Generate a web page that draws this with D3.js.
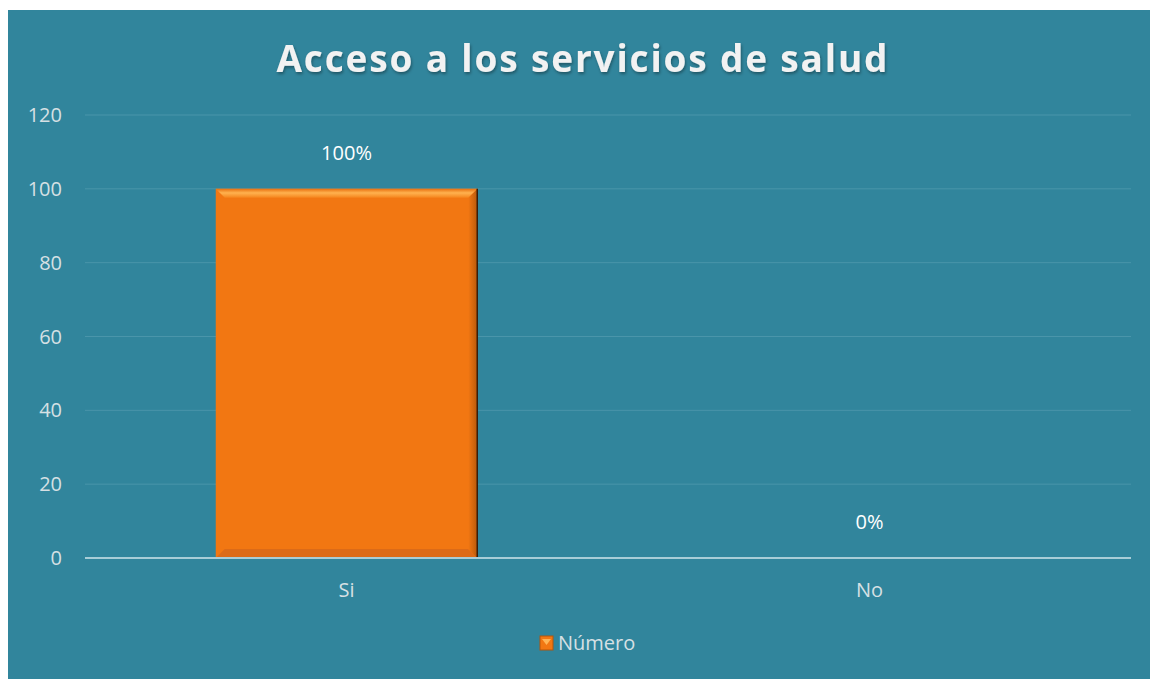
<!DOCTYPE html>
<html>
<head>
<meta charset="utf-8">
<script src="https://cdn.jsdelivr.net/npm/d3@7.9.0/dist/d3.min.js"></script>
<style>
  body { margin: 0; background: #fff; }
  svg { display: block; font-family: 'Open Sans', sans-serif; }
</style>
</head>
<body>
<div id="chart"></div>
<script>
// chart data
const categories = ['Si', 'No'];
const values = [100, 0];
const labels = ['100%', '0%'];
const yTicks = [0, 20, 40, 60, 80, 100, 120];
const seriesName = 'Número';
const title = 'Acceso a los servicios de salud';

const width = 1150;
const height = 679;
const margin = { top: 115, right: 19, bottom: 121, left: 85 };

const svg = d3.select('#chart')
  .append('svg')
  .attr('width', width)
  .attr('height', height);

const defs = svg.append('defs');
const shadow = defs.append('filter').attr('id', 'shadow')
  .attr('x', '-10%').attr('y', '-30%').attr('width', '120%').attr('height', '160%');
shadow.append('feDropShadow')
  .attr('dx', 1).attr('dy', 2).attr('stdDeviation', 1.5)
  .attr('flood-color', '#000').attr('flood-opacity', 0.35);

const topGrad = defs.append('linearGradient').attr('id', 'topGrad')
  .attr('x1', 0).attr('y1', 0).attr('x2', 0).attr('y2', 1);
topGrad.append('stop').attr('offset', '0%').attr('stop-color', '#e8700f');
topGrad.append('stop').attr('offset', '45%').attr('stop-color', '#ffb24f');
topGrad.append('stop').attr('offset', '100%').attr('stop-color', '#f5841c');

const rightGrad = defs.append('linearGradient').attr('id', 'rightGrad')
  .attr('x1', 0).attr('y1', 0).attr('x2', 1).attr('y2', 0);
rightGrad.append('stop').attr('offset', '0%').attr('stop-color', '#f27712');
rightGrad.append('stop').attr('offset', '100%').attr('stop-color', '#b85a0c');

// background panel
svg.append('rect')
  .attr('x', 8).attr('y', 10)
  .attr('width', width - 8).attr('height', height - 10)
  .attr('fill', '#31859c');

// title
svg.append('text')
  .attr('x', 582).attr('y', 72)
  .attr('text-anchor', 'middle')
  .attr('fill', '#f2f2f2')
  .attr('font-size', 37)
  .attr('font-weight', 700)
  .attr('textLength', 611)
  .attr('lengthAdjust', 'spacing')
  .attr('filter', 'url(#shadow)')
  .text(title);

const x = d3.scaleBand()
  .domain(categories)
  .range([margin.left, width - margin.right])
  .paddingInner(0.5)
  .paddingOuter(0.25);

const y = d3.scaleLinear()
  .domain([0, 120])
  .range([height - margin.bottom, margin.top]);

// gridlines
svg.append('g')
  .selectAll('line')
  .data(yTicks.filter(d => d > 0))
  .join('line')
  .attr('x1', margin.left).attr('x2', width - margin.right)
  .attr('y1', d => y(d)).attr('y2', d => y(d))
  .attr('stroke', '#4a95aa')
  .attr('stroke-width', 1);

// y tick labels
svg.append('g')
  .selectAll('text')
  .data(yTicks)
  .join('text')
  .attr('x', 62)
  .attr('y', d => y(d))
  .attr('dy', '0.35em')
  .attr('text-anchor', 'end')
  .attr('fill', '#d6e0e4')
  .attr('font-size', 20)
  .text(d => d);

// bars
const bars = svg.append('g')
  .selectAll('g')
  .data(categories.map((c, i) => ({ cat: c, value: values[i], label: labels[i] })))
  .join('g');

bars.filter(d => d.value > 0).each(function (d) {
  const g = d3.select(this);
  const x0 = x(d.cat), x1 = x0 + x.bandwidth();
  const y0 = y(d.value), y1 = y(0);
  const b = 9;
  g.append('rect')
    .attr('x', x0).attr('y', y0)
    .attr('width', x1 - x0).attr('height', y1 - y0)
    .attr('fill', '#f27712');
  // bevel bottom
  g.append('path')
    .attr('d', `M${x0},${y1}L${x1},${y1}L${x1 - b},${y1 - b}L${x0 + b},${y1 - b}Z`)
    .attr('fill', '#dc6b18');
  // bevel right
  g.append('path')
    .attr('d', `M${x1},${y0}L${x1},${y1}L${x1 - b},${y1 - b}L${x1 - b},${y0 + b}Z`)
    .attr('fill', 'url(#rightGrad)');
  // bevel top
  g.append('path')
    .attr('d', `M${x0},${y0}L${x1},${y0}L${x1 - b},${y0 + b}L${x0 + b},${y0 + b}Z`)
    .attr('fill', 'url(#topGrad)');
  g.append('line')
    .attr('x1', x1).attr('x2', x1)
    .attr('y1', y0).attr('y2', y1)
    .attr('stroke', '#3a1d08').attr('stroke-width', 1.5);
});

// data labels
bars.append('text')
  .attr('x', d => x(d.cat) + x.bandwidth() / 2)
  .attr('y', d => y(d.value) - 36)
  .attr('dy', '0.35em')
  .attr('text-anchor', 'middle')
  .attr('fill', '#ffffff')
  .attr('font-size', 20)
  .text(d => d.label);

// baseline
svg.append('line')
  .attr('x1', margin.left).attr('x2', width - margin.right)
  .attr('y1', y(0)).attr('y2', y(0))
  .attr('stroke', '#a8cdd7')
  .attr('stroke-width', 2);

// category labels
svg.append('g')
  .selectAll('text')
  .data(categories)
  .join('text')
  .attr('x', d => x(d) + x.bandwidth() / 2)
  .attr('y', 590)
  .attr('dy', '0.35em')
  .attr('text-anchor', 'middle')
  .attr('fill', '#d6e0e4')
  .attr('font-size', 20)
  .text(d => d);

// legend
const legend = svg.append('g').attr('transform', 'translate(540,636)');
legend.append('rect')
  .attr('width', 13).attr('height', 14)
  .attr('fill', '#f27712')
  .attr('stroke', '#b2560c').attr('stroke-width', 1);
legend.append('path')
  .attr('d', 'M2,3L11,3L6.5,9Z')
  .attr('fill', '#ffb455');
legend.append('text')
  .attr('x', 18).attr('y', 7)
  .attr('dy', '0.35em')
  .attr('fill', '#d6e0e4')
  .attr('font-size', 20)
  .text(seriesName);
</script>
</body>
</html>
